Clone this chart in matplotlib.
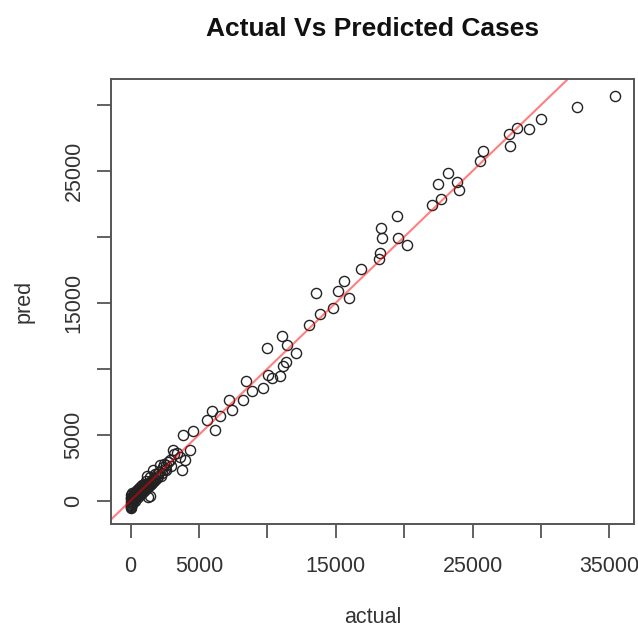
import matplotlib
matplotlib.use("Agg")
import matplotlib.pyplot as plt

plt.rcParams['font.family'] = ['Liberation Sans', 'DejaVu Sans']

# values in thousands of cases
actual_k = [35.39, 32.66, 29.99, 29.15, 28.23, 27.69, 27.74, 25.79, 25.55, 23.23,
            22.46, 23.89, 24.04, 22.70, 22.02, 19.48, 18.29, 18.38, 19.58, 20.19,
            18.24, 18.14, 16.85, 15.63, 15.15, 13.56, 15.95, 14.78, 13.85, 13.07,
            11.10, 11.46, 10.00, 12.10, 11.37, 11.17, 10.93, 10.07, 10.32, 9.71,
            8.44, 8.86, 8.25, 7.22, 7.40, 5.94, 6.18, 5.57, 6.54, 3.86,
            4.59, 3.13, 4.35, 3.74, 3.95, 2.89, 2.16, 1.67, 1.18, 1.43, 1.28,
            3.40, 3.60, 3.20, 2.75, 2.95, 2.45, 2.60,
            0.00, 0.02, 0.05, 0.00, 0.10, 0.05, 0.15, 0.00, 0.20, 0.10,
            0.25, 0.05, 0.30, 0.15, 0.35, 0.20, 0.40, 0.45, 0.30, 0.50,
            0.55, 0.60, 0.65, 0.70, 0.75, 0.80, 0.85, 0.90, 0.95, 1.00,
            1.05, 1.10, 1.20, 1.25, 1.30, 1.40, 1.50, 1.55, 1.60, 1.70,
            1.80, 1.90, 2.00, 2.10, 2.30, 2.40, 2.50, 2.60,
            0.00, 0.08, 0.12, 0.30, 0.45, 0.60, 0.75, 0.90, 1.05, 1.20,
            1.35, 1.50, 1.65, 1.80, 1.95, 2.20, 0.40, 0.70, 1.00, 0.25,
            0.55, 0.85, 1.15, 1.45, 1.75, 0.00, 0.10, 0.20]
pred_k = [30.70, 29.83, 28.92, 28.16, 28.23, 27.80, 26.89, 26.54, 25.76, 24.87,
          23.99, 24.14, 23.56, 22.86, 22.42, 21.61, 20.70, 19.92, 19.95, 19.39,
          18.77, 18.31, 17.55, 16.67, 15.91, 15.78, 15.36, 14.60, 14.14, 13.33,
          12.50, 11.77, 11.57, 11.19, 10.55, 10.23, 9.42, 9.55, 9.30, 8.54,
          9.11, 8.28, 7.65, 7.65, 6.89, 6.77, 5.38, 6.14, 6.39, 5.00,
          5.25, 3.86, 3.86, 2.35, 3.11, 3.11, 2.73, 2.35, 1.84, 0.33, 0.30,
          3.60, 3.30, 3.50, 2.90, 2.60, 2.80, 2.30,
          -0.52, -0.45, -0.38, -0.30, -0.25, -0.15, -0.10, 0.00, 0.05, 0.10,
          0.15, 0.20, 0.25, 0.30, 0.35, 0.45, 0.40, 0.55, 0.60, 0.50,
          0.70, 0.60, 0.80, 0.75, 0.65, 0.90, 0.85, 1.00, 0.90, 1.10,
          0.95, 1.20, 1.15, 1.35, 1.10, 1.45, 1.30, 1.60, 1.40, 1.75,
          1.65, 2.00, 1.85, 2.20, 2.10, 2.55, 2.40, 2.70,
          0.40, 0.55, -0.20, 0.00, 0.20, 0.35, 0.50, 0.65, 0.80, 0.95,
          1.10, 1.25, 1.40, 1.55, 1.70, 1.90, 0.70, 1.00, 1.30, 0.60,
          0.90, 1.20, 1.50, 1.80, 2.05, 0.20, -0.05, 0.25]
actual = [v * 1000 for v in actual_k]
pred = [v * 1000 for v in pred_k]

x_ticks = [0, 5000, 10000, 15000, 20000, 25000, 30000, 35000]
x_tick_labels = ['0', '5000', '', '15000', '', '25000', '', '35000']
y_ticks = [0, 5000, 10000, 15000, 20000, 25000, 30000]
y_tick_labels = ['0', '5000', '', '15000', '', '25000', '']

W, H = 638, 629
fig = plt.figure(figsize=(W / 100, H / 100), dpi=100)
ax = fig.add_axes([111 / W, 1 - 524 / H, 523 / W, 445 / H])

ax.plot(actual, pred, linestyle='none', marker='o', markersize=7.3,
        markerfacecolor='none', markeredgecolor='#222222', markeredgewidth=1.0)
ax.axline((0, 0), slope=1, color='red', alpha=0.5, lw=1.5)

ax.set_xlim(-1430, 36800)
ax.set_ylim(-1770, 31970)

ax.set_xticks(x_ticks)
ax.set_xticklabels(x_tick_labels)
ax.set_yticks(y_ticks)
ax.set_yticklabels(y_tick_labels, rotation=90, va='center')

for s in ax.spines.values():
    s.set_color('#555555')
    s.set_linewidth(1.4)
ax.tick_params(axis='both', direction='out', length=10, width=1.3,
               color='#555555', labelsize=15.5, labelcolor='#333333')
ax.tick_params(axis='x', pad=13)
ax.tick_params(axis='y', pad=9)

ax.set_xlabel('actual', fontsize=15.5, color='#333333')
ax.xaxis.label.set_va('center')
ax.xaxis.set_label_coords(0.5, -0.209)
ax.set_ylabel('pred', fontsize=15.5, color='#333333')
ax.yaxis.label.set_va('center')
ax.yaxis.label.set_ha('center')
ax.yaxis.set_label_coords(-0.166, 0.5)

fig.text((111 + 634) / 2 / W, 1 - 29 / H, 'Actual Vs Predicted Cases',
         ha='center', va='center', fontsize=19, fontweight='bold', color='#111111')

fig.savefig('out.png', dpi=100)
